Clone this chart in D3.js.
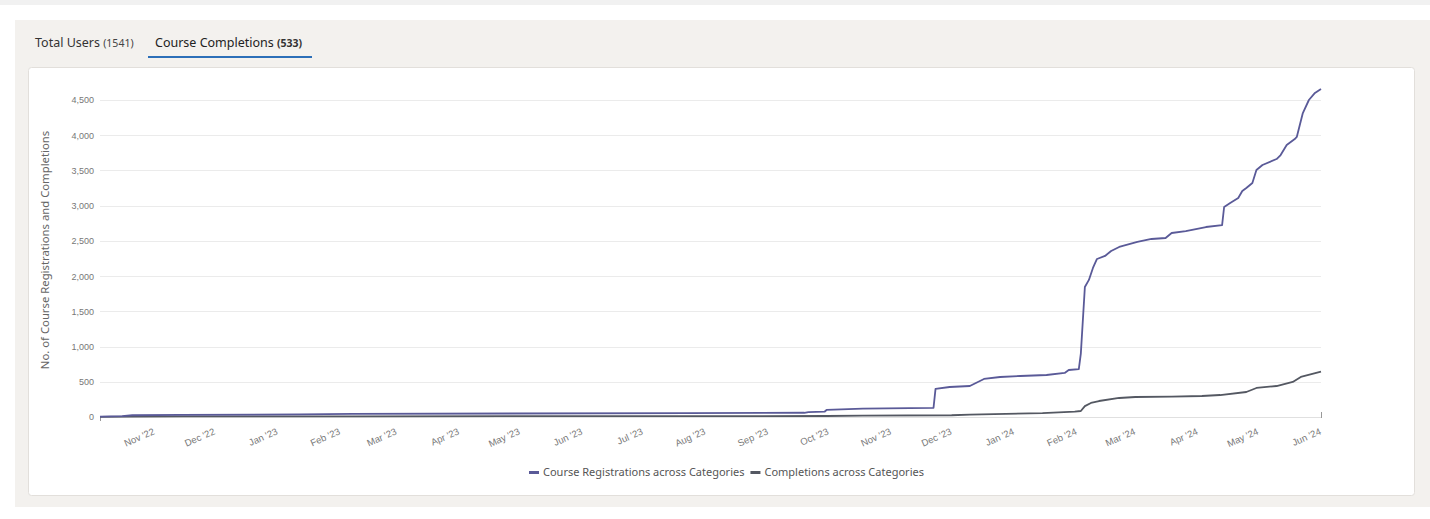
<!DOCTYPE html>
<html>
<head>
<meta charset="utf-8">
<script src="https://cdn.jsdelivr.net/npm/d3@7"></script>
<style>
  html, body { margin: 0; padding: 0; background: #fff; }
  svg { display: block; }
</style>
</head>
<body>
<svg id="chart" width="1430" height="519"></svg>
<script>
// ---- Data ----
const tabLabels = ["Total Users", "Course Completions"];
const tabCounts = ["(1541)", "(533)"];
const seriesNames = ["Course Registrations across Categories", "Completions across Categories"];
const yTicks = [0, 500, 1000, 1500, 2000, 2500, 3000, 3500, 4000, 4500];
const xTickMonths = ["2022-11-01","2022-12-01","2023-01-01","2023-02-01","2023-03-01","2023-04-01","2023-05-01","2023-06-01","2023-07-01","2023-08-01","2023-09-01","2023-10-01","2023-11-01","2023-12-01","2024-01-01","2024-02-01","2024-03-01","2024-04-01","2024-05-01","2024-06-01"];
const xDomain = ["2022-10-05", "2024-06-01"];

const registrationDates = ["2022-10-05","2022-10-16","2022-10-21","2022-11-14","2023-01-12","2023-02-07","2023-07-23","2023-09-19","2023-09-21","2023-09-29","2023-09-30","2023-10-18","2023-11-22","2023-11-23","2023-11-30","2023-12-10","2023-12-13","2023-12-17","2023-12-25","2024-01-04","2024-01-17","2024-01-26","2024-01-28","2024-02-02","2024-02-03","2024-02-05","2024-02-07","2024-02-09","2024-02-11","2024-02-15","2024-02-18","2024-02-22","2024-03-02","2024-03-09","2024-03-16","2024-03-19","2024-03-26","2024-04-05","2024-04-13","2024-04-14","2024-04-17","2024-04-21","2024-04-23","2024-04-25","2024-04-28","2024-04-30","2024-05-03","2024-05-10","2024-05-12","2024-05-15","2024-05-19","2024-05-20","2024-05-23","2024-05-26","2024-05-29","2024-06-01"];
const registrationValues = [5,12,25,30,38,45,55,60,70,75,100,120,130,398,426,440,483,540,568,582,596,625,667,681,900,1846,1946,2116,2243,2286,2357,2414,2485,2527,2541,2612,2640,2697,2725,2981,3038,3109,3208,3251,3322,3506,3577,3662,3719,3861,3946,3975,4315,4500,4600,4656];

const completionDates = ["2022-10-05","2022-10-20","2022-11-15","2023-02-07","2023-09-30","2023-10-18","2023-12-01","2023-12-10","2024-01-15","2024-01-31","2024-02-03","2024-02-05","2024-02-08","2024-02-12","2024-02-22","2024-03-01","2024-03-19","2024-04-03","2024-04-12","2024-04-25","2024-04-30","2024-05-10","2024-05-18","2024-05-22","2024-06-01"];
const completionValues = [2,5,8,10,14,20,25,35,55,75,85,155,199,227,270,284,290,298,312,355,412,440,497,568,645];

const seriesColors = ["#5a5a98", "#545862"];

// ---- Setup ----
const svg = d3.select("#chart");
const parse = d3.utcParse("%Y-%m-%d");

// page backgrounds
svg.append("rect").attr("x", 0).attr("y", 0).attr("width", 1430).attr("height", 5).attr("fill", "#f1f1f1");
svg.append("rect").attr("x", 15).attr("y", 20).attr("width", 1415).attr("height", 487).attr("fill", "#f3f1ee");

// tabs
const tabFont = "'Noto Sans', 'Open Sans', sans-serif";
const t1 = svg.append("text").attr("x", 35).attr("y", 47).attr("font-family", tabFont).attr("font-size", 12.5).attr("fill", "#333");
t1.append("tspan").text(tabLabels[0] + " ");
t1.append("tspan").attr("font-size", 10.5).attr("fill", "#444").text(tabCounts[0]);
const t2 = svg.append("text").attr("x", 155).attr("y", 47).attr("font-family", tabFont).attr("font-size", 12.5).attr("fill", "#222");
t2.append("tspan").text(tabLabels[1] + " ");
t2.append("tspan").attr("font-size", 10.5).attr("font-weight", "bold").attr("fill", "#333").text(tabCounts[1]);
svg.append("rect").attr("x", 148).attr("y", 56).attr("width", 164).attr("height", 2).attr("fill", "#2c6fb8");

// card
svg.append("rect").attr("x", 28.5).attr("y", 67.5).attr("width", 1386).attr("height", 428).attr("rx", 3)
  .attr("fill", "#fff").attr("stroke", "#e2dfdb").attr("stroke-width", 1);

// scales
const x = d3.scaleUtc().domain(xDomain.map(parse)).range([100, 1321]);
const y = d3.scaleLinear().domain([0, 4500]).range([417, 100]);

// gridlines
const grid = svg.append("g");
grid.selectAll("line").data(yTicks.slice(1)).join("line")
  .attr("x1", 100).attr("x2", 1321)
  .attr("y1", d => Math.round(y(d)) + 0.5).attr("y2", d => Math.round(y(d)) + 0.5)
  .attr("stroke", "#ebebeb").attr("stroke-width", 1);

// y axis
const yAxis = svg.append("g").attr("transform", "translate(100,0)")
  .call(d3.axisLeft(y).tickValues(yTicks).tickFormat(d3.format(",")).tickSize(0).tickPadding(6));
yAxis.select(".domain").remove();
yAxis.selectAll("text").attr("font-family", "'Liberation Sans', Arial, sans-serif").attr("font-size", 9).attr("fill", "#777");

// x axis
const xAxis = svg.append("g").attr("transform", "translate(0,417)")
  .call(d3.axisBottom(x).tickValues(xTickMonths.map(parse)).tickFormat(d3.utcFormat("%b '%y")).tickSize(0));
xAxis.select(".domain").attr("stroke", "#e0e0e0");
xAxis.selectAll("text")
  .attr("font-family", "'Liberation Sans', Arial, sans-serif").attr("font-size", 9.5).attr("fill", "#777")
  .attr("text-anchor", "end").attr("dy", 0)
  .attr("transform", "translate(-1,14) rotate(-24)");
// end ticks
svg.append("line").attr("x1", 1321.5).attr("x2", 1321.5).attr("y1", 412).attr("y2", 418).attr("stroke", "#999");
svg.append("line").attr("x1", 100.5).attr("x2", 100.5).attr("y1", 416).attr("y2", 421).attr("stroke", "#999");

// y-axis title
svg.append("text").attr("transform", "translate(49,250) rotate(-90)")
  .attr("text-anchor", "middle").attr("font-family", tabFont).attr("font-size", 11.3).attr("fill", "#666")
  .text("No. of Course Registrations and Completions");

// lines
const line = d3.line().x(d => x(d[0])).y(d => y(d[1]));
const regData = registrationDates.map((d, i) => [parse(d), registrationValues[i]]);
const compData = completionDates.map((d, i) => [parse(d), completionValues[i]]);

svg.append("path").datum(compData).attr("d", line).attr("fill", "none")
  .attr("stroke", seriesColors[1]).attr("stroke-width", 1.8).attr("stroke-linejoin", "round");
svg.append("path").datum(regData).attr("d", line).attr("fill", "none")
  .attr("stroke", seriesColors[0]).attr("stroke-width", 1.8).attr("stroke-linejoin", "round");

// legend
const legend = svg.append("g");
const legendFont = 11;
let lx = 529;
seriesNames.forEach((name, i) => {
  legend.append("rect").attr("x", lx).attr("y", 471).attr("width", 10).attr("height", 3).attr("fill", seriesColors[i]);
  const t = legend.append("text").attr("x", lx + 14).attr("y", 476)
    .attr("font-family", tabFont).attr("font-size", legendFont).attr("fill", "#555").text(name);
  lx += 14 + t.node().getComputedTextLength() + 6;
});
</script>
</body>
</html>
